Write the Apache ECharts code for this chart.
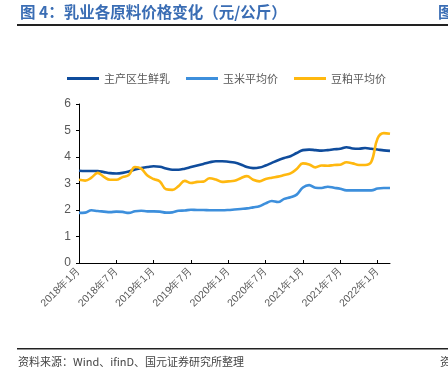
<!DOCTYPE html>
<html><head><meta charset="utf-8">
<script src="https://cdn.jsdelivr.net/npm/echarts@6/dist/echarts.min.js"></script>
<style>html,body{margin:0;padding:0;background:#fff;}#c{width:448px;height:389px;}</style>
</head><body><div id="c"></div>
<script>
// months 2018-01 .. 2022-03
const categories = [];
for (let y = 2018; y <= 2022; y++) for (let m = 1; m <= 12; m++) { if (y === 2022 && m > 3) break; categories.push(y + '年' + m + '月'); }
const seriesNames = ['主产区生鲜乳', '玉米平均价', '豆粕平均价'];
const milk = [3.48,3.47,3.47,3.47,3.43,3.39,3.38,3.40,3.45,3.53,3.58,3.62,3.65,3.63,3.57,3.52,3.52,3.56,3.62,3.68,3.74,3.80,3.84,3.84,3.82,3.79,3.72,3.62,3.58,3.60,3.68,3.78,3.88,3.96,4.03,4.15,4.26,4.28,4.26,4.24,4.26,4.29,4.31,4.37,4.32,4.31,4.34,4.31,4.28,4.25,4.23];
const corn = [1.89,1.90,1.99,1.96,1.94,1.92,1.94,1.93,1.89,1.95,1.97,1.95,1.95,1.94,1.90,1.91,1.97,1.98,2.01,2.00,2.00,1.99,1.99,1.99,2.00,2.02,2.04,2.06,2.10,2.14,2.25,2.34,2.30,2.42,2.48,2.58,2.85,2.94,2.84,2.83,2.88,2.84,2.80,2.74,2.74,2.74,2.74,2.74,2.81,2.83,2.83];
const soymeal = [3.14,3.11,3.22,3.40,3.25,3.14,3.14,3.24,3.32,3.62,3.56,3.30,3.17,3.08,2.78,2.76,2.90,3.10,3.02,3.06,3.07,3.20,3.15,3.06,3.08,3.10,3.20,3.28,3.14,3.08,3.17,3.22,3.26,3.32,3.38,3.55,3.76,3.72,3.61,3.68,3.67,3.70,3.71,3.80,3.76,3.70,3.70,3.82,4.70,4.90,4.88];
const yTicks = [0,1,2,3,4,5,6];

const chart = echarts.init(document.getElementById('c'));
const colors = ['#0f4c9c', '#3d8fdc', '#ffb80f'];
const mk = (name, data, i) => ({ name, type: 'line', data, smooth: 0.4, symbol: 'none', lineStyle: { width: 2.6, color: colors[i] }, itemStyle: { color: colors[i] } });
chart.setOption({
  animation: false,
  graphic: [
    { type: 'text', left: 20, top: 4, style: { text: '图 4：乳业各原料价格变化（元/公斤）', font: 'bold 15.5px "Noto Sans CJK SC"', fill: '#3a6db4' } },
    { type: 'text', left: 438, top: 4, style: { text: '图', font: 'bold 15.5px "Noto Sans CJK SC"', fill: '#3a6db4' } },
    { type: 'rect', shape: { x: 17, y: 24, width: 431, height: 2 }, style: { fill: '#222' } },
    { type: 'rect', shape: { x: 17, y: 348, width: 431, height: 1.5 }, style: { fill: '#222' } },
    { type: 'text', left: 18, top: 356, style: { text: '资料来源：Wind、ifinD、国元证券研究所整理', font: '11px "Noto Sans CJK SC"', fill: '#444' } },
    { type: 'text', left: 440, top: 356, style: { text: '资', font: '11px "Noto Sans CJK SC"', fill: '#444' } }
  ],
  legend: {
    top: 68, left: 62, itemWidth: 32, itemHeight: 3, itemGap: 16,
    icon: 'rect',
    textStyle: { fontSize: 11, color: '#595959', fontFamily: '"Noto Sans CJK SC"', padding: [0, 0, 0, 0] },
    data: seriesNames
  },
  grid: { left: 79, right: 58, top: 104, bottom: 126, containLabel: false },
  xAxis: {
    type: 'category', data: categories, boundaryGap: false,
    axisLine: { lineStyle: { color: '#000', width: 1 } },
    axisTick: { inside: true, length: 3, interval: 5, lineStyle: { color: '#000' } },
    axisLabel: { interval: 5, rotate: 45, fontSize: 10.5, color: '#595959', fontFamily: 'Liberation Sans', margin: 6 },
    splitLine: { show: false }
  },
  yAxis: {
    type: 'value', min: yTicks[0], max: yTicks[yTicks.length - 1], interval: 1,
    axisLine: { show: true, lineStyle: { color: '#000', width: 1 } },
    axisTick: { show: true, length: 3, lineStyle: { color: '#000' } },
    axisLabel: { fontSize: 12, color: '#595959', fontFamily: 'Liberation Sans', margin: 8 },
    splitLine: { show: false }
  },
  series: [mk(seriesNames[0], milk, 0), mk(seriesNames[1], corn, 1), mk(seriesNames[2], soymeal, 2)]
});
</script></body></html>
